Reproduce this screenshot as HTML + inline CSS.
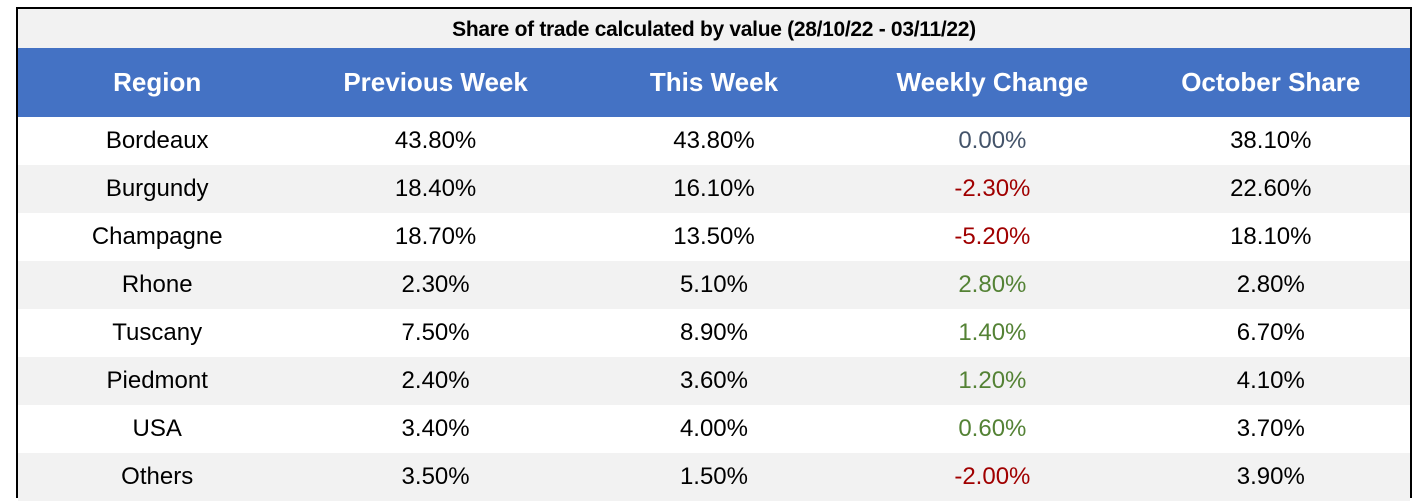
<!DOCTYPE html>
<html><head><meta charset="utf-8"><style>
body{margin:0;background:#fff;width:1413px;height:504px;overflow:hidden;font-family:"Liberation Sans",Arial,sans-serif}
#wrap{position:absolute;left:16px;top:7px;width:1392px;height:487px;border:2px solid #000;background:#fff}
.title{position:absolute;left:0;top:0;width:1392px;height:39px;background:#f2f2f2;text-align:center;font-weight:bold;font-size:21px;line-height:42px;letter-spacing:-0.3px;color:#000}
table{position:absolute;left:0;top:39px;width:1392px;border-collapse:collapse;table-layout:fixed}
th{background:#4472c4;color:#fff;font-size:26px;height:69px;font-weight:bold;padding:0}
td{height:48px;font-size:24px;text-align:center;padding:0;color:#000}
tr.g td{background:#f2f2f2}
.neg{color:#a00000}.pos{color:#548235}.zero{color:#44546a}
</style></head><body>
<div id="wrap">
<div class="title">Share of trade calculated by value (28/10/22 - 03/11/22)</div>
<table>
<thead><tr>
<th>Region</th>
<th>Previous Week</th>
<th>This Week</th>
<th>Weekly Change</th>
<th>October Share</th>
</tr></thead>
<tbody id="tb"></tbody></table></div>
<script>
const regions=["Bordeaux","Burgundy","Champagne","Rhone","Tuscany","Piedmont","USA","Others"];
const prevWeek=[43.8,18.4,18.7,2.3,7.5,2.4,3.4,3.5];
const thisWeek=[43.8,16.1,13.5,5.1,8.9,3.6,4.0,1.5];
const weeklyChange=[0.0,-2.3,-5.2,2.8,1.4,1.2,0.6,-2.0];
const octShare=[38.1,22.6,18.1,2.8,6.7,4.1,3.7,3.9];
const tb=document.getElementById('tb');
regions.forEach((r,i)=>{
  const tr=document.createElement('tr');
  
  
  if(i%2===1)tr.className='g';
  const vals=[r,prevWeek[i].toFixed(2)+'%',thisWeek[i].toFixed(2)+'%',weeklyChange[i].toFixed(2)+'%',octShare[i].toFixed(2)+'%'];
  const names=['region','previous-week','this-week','weekly-change','october-share'];
  vals.forEach((v,j)=>{
    const td=document.createElement('td');
    
    
    td.textContent=v;
    if(j===3)td.className=weeklyChange[i]<0?'neg':(weeklyChange[i]>0?'pos':'zero');
    tr.appendChild(td);
  });
  tb.appendChild(tr);
});
</script>
</body></html>
